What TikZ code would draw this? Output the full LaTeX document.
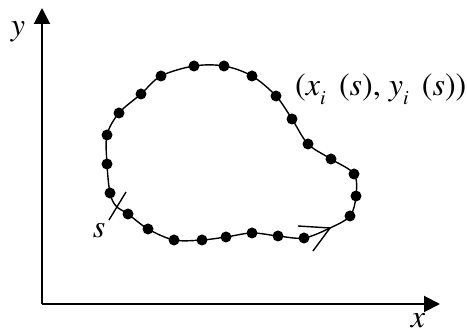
\documentclass[tikz,border=0pt]{standalone}
\usepackage[T1]{fontenc}
\usepackage{times}
\usetikzlibrary{arrows.meta}
\begin{document}
\begin{tikzpicture}[x=1pt,y=-1pt,
  axis/.style={line width=2pt,-{Triangle[length=16pt,width=16pt]}},
  contour/.style={line width=1.4pt},
  pt/.style={circle,fill=black,inner sep=0pt,minimum size=11pt},
  lbl/.style={font=\fontsize{32}{36}\selectfont\itshape,inner sep=0pt},
  thin/.style={line width=1.4pt}]
\useasboundingbox (0,0) rectangle (467,336);
% axes
\coordinate (O) at (42,304);
\coordinate (Y) at (42,8);
\coordinate (X) at (440,304);
\draw[axis] (O) -- (Y);
\draw[axis] (O) -- (X);
\node[lbl] (ylab) at (18,32) {y};
\node[lbl] (xlab) at (418,321) {x};
% contour
\draw[contour] plot[smooth cycle,tension=0.55] coordinates {
 (194,66) (224,66) (252,76) (276,96) (292,119) (308,144) (331,159)
 (354,174) (356,196) (350,216) (330,228) (304,238) (278,236) (252,233)
 (226,237) (202,240) (174,240) (148,229) (128,214) (116,206) (110,193)
 (107,164) (107,135) (119,113) (141,94) (161,76)};
% dots
\foreach \p [count=\i] in {(194,66),(224,66),(252,76),(276,96),(292,119),(308,144),(331,159),
 (354,174),(356,196),(350,216),(304,238),(278,236),(252,233),
 (226,237),(202,240),(174,240),(148,229),(128,214),(110,193),
 (107,164),(107,135),(119,113),(141,94),(161,76)}
  \node[pt] (d\i) at \p {};
% tick at s
\coordinate (t1) at (109,220);
\coordinate (t2) at (126,192);
\draw[thin] (t1) -- (t2);
\node[lbl] (slab) at (99,231) {s};
% open arrow on contour
\coordinate (tip) at (330,228);
\coordinate (b1) at (298,226);
\coordinate (b2) at (313,251);
\draw[thin] (b1) -- (tip) -- (b2);
% point label
\node[lbl,font=\fontsize{32}{36}\selectfont,anchor=west] (plab) at (295,89)
 {(\textit{x}\raisebox{-0.28em}{\fontsize{20}{22}\selectfont\textit{i}}\, (\textit{s}), \textit{y}\raisebox{-0.28em}{\fontsize{20}{22}\selectfont\textit{i}}\, (\textit{s}))};
\end{tikzpicture}
\end{document}
